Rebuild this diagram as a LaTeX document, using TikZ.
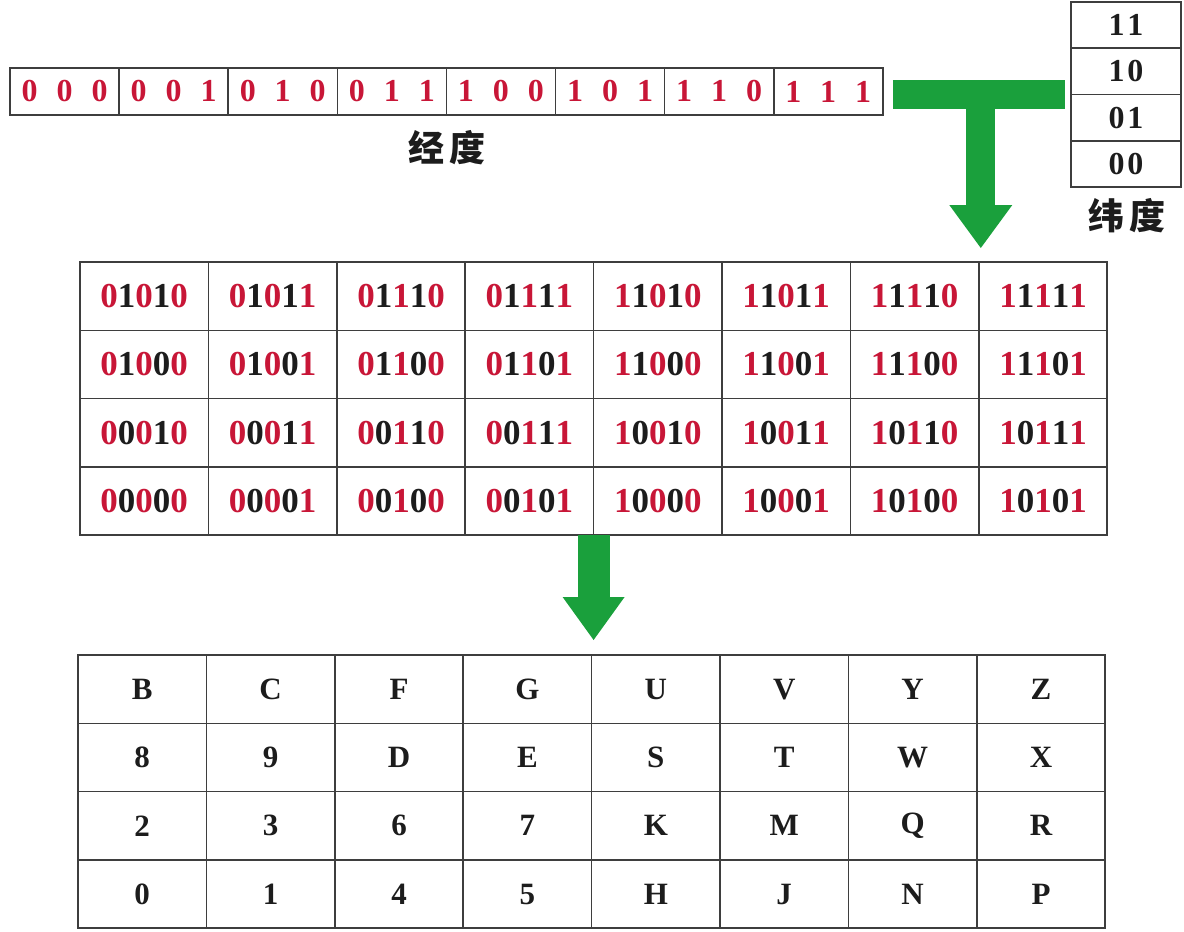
\documentclass[tikz,border=0pt]{standalone}
\usepackage{fontspec}
\setmainfont{Liberation Serif}
\newfontfamily\cjkfont{Noto Sans CJK SC}
\usetikzlibrary{arrows.meta}

\definecolor{bitred}{RGB}{200,22,55}
\definecolor{bitdark}{RGB}{28,28,28}
\definecolor{arrowgreen}{RGB}{26,160,60}
\definecolor{gridline}{RGB}{62,62,62}

% odd positions come from the longitude, even ones from the latitude
\newcommand{\bits}[5]{\textcolor{bitred}{#1}#2\textcolor{bitred}{#3}#4\textcolor{bitred}{#5}}
\newcommand{\tribit}[3]{\makebox[35pt]{#1}\makebox[35pt]{#2}\makebox[35pt]{#3}}
\newcommand{\twobit}[2]{#1\hspace{3pt}#2}

\tikzset{
  cell/.style={draw=gridline, line width=1.6pt, inner sep=0pt, outer sep=0pt},
  greenarrow/.style={arrowgreen, line width=29pt, line cap=butt},
}

\begin{document}
\begin{tikzpicture}[x=1pt, y=-1pt]
      \useasboundingbox (0,0) rectangle (1184,932);
      \def \lonw {109.1}
      \def \cw {128.4}
      \def \ch {68.3}

      % longitude, 3 bits
      \foreach \t [count=\i] in {000,001,010,011,100,101,110,111}
      {
        \node[cell, minimum width=\lonw pt, minimum height=47pt, text=bitred,
          font=\bfseries\fontsize{32}{32}\selectfont]
          (lon-\i) at ({10 + \lonw*(\i - 0.5)}, 91.5) {\expandafter\tribit\t};
      }
      \node[font=\cjkfont\bfseries\fontsize{36}{36}\selectfont, text=bitdark] (lonlabel) at (447,148) {经\hspace{6pt}度};

      % latitude, 2 bits
      \foreach \t [count=\i] in {11,10,01,00}
      {
        \node[cell, minimum width=110pt, minimum height=46.25pt, text=bitdark,
          font=\bfseries\fontsize{32}{32}\selectfont]
          (lat-\i) at (1126, {2 + 46.25*(\i - 0.5)}) {\expandafter\twobit\t};
      }
      \node[font=\cjkfont\bfseries\fontsize{36}{36}\selectfont, text=bitdark] (latlabel) at (1127,216) {纬\hspace{6pt}度};

      % interleaved bits
      \foreach \row [count=\r] in {
        {01010,01011,01110,01111,11010,11011,11110,11111},
        {01000,01001,01100,01101,11000,11001,11100,11101},
        {00010,00011,00110,00111,10010,10011,10110,10111},
        {00000,00001,00100,00101,10000,10001,10100,10101}}
      {
        \foreach \t [count=\c] in \row
        {
          \node[cell, minimum width=\cw pt, minimum height=\ch pt, text=bitdark,
            font=\bfseries\fontsize{35}{35}\selectfont]
            (g-\r-\c) at ({80 + \cw*(\c - 0.5)}, {262 + \ch*(\r - 0.5)}) {\expandafter\bits\t};
        }
      }

      % base32 characters
      \foreach \row [count=\r] in {{B,C,F,G,U,V,Y,Z},{8,9,D,E,S,T,W,X},{2,3,6,7,K,M,Q,R},{0,1,4,5,H,J,N,P}}
      {
        \foreach \t [count=\c] in \row
        {
          \node[cell, minimum width=\cw pt, minimum height=\ch pt, text=bitdark,
            font=\bfseries\fontsize{31}{31}\selectfont]
            (c-\r-\c) at ({78 + \cw*(\c - 0.5)}, {655 + \ch*(\r - 0.5)}) {\t};
        }
      }

      % green arrows
      \coordinate (tee) at ([xshift=2pt]g-1-8.north west |- lat-2.south);
      \draw[greenarrow, shorten <=10pt, shorten >=6pt] (lon-8.east |- lat-2.south) -- (lat-2.south west);
      \draw[greenarrow, shorten >=14pt, -{Triangle[length=43pt, width=63pt, line width=0pt]}]
        (tee) -- (tee |- g-1-8.north);
      \draw[greenarrow, line width=32pt, shorten >=15pt, -{Triangle[length=43pt, width=62pt, line width=0pt]}]
        (g-4-4.south east) -- (g-4-4.south east |- c-1-4.north);
    \end{tikzpicture}
\end{document}
